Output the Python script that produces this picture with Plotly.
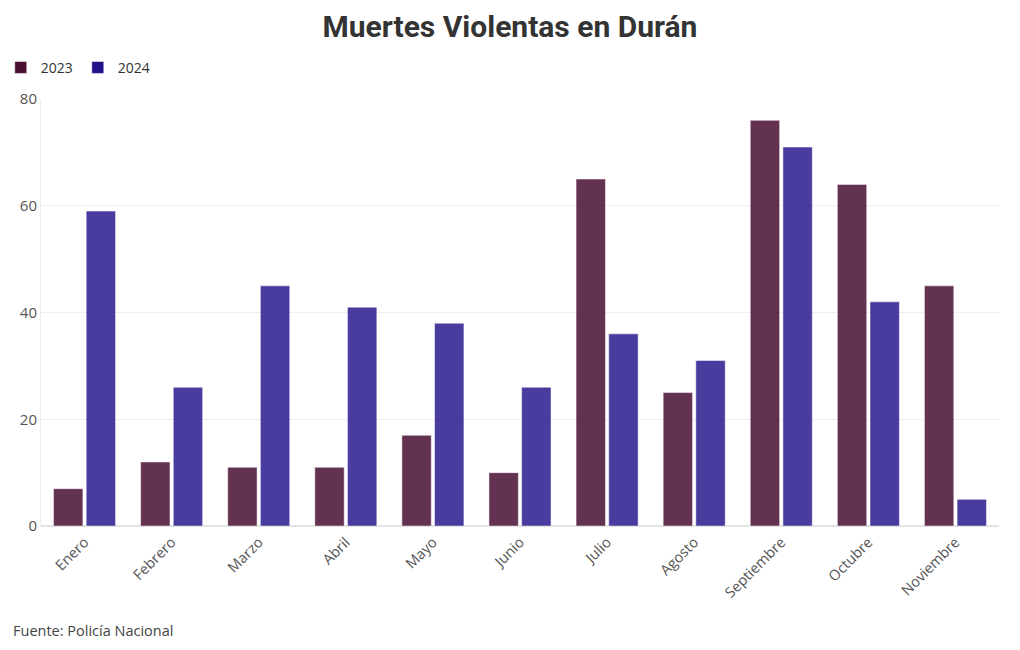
import plotly.graph_objects as go

MONTHS = ["Enero", "Febrero", "Marzo", "Abril", "Mayo", "Junio", "Julio",
          "Agosto", "Septiembre", "Octubre", "Noviembre"]
DEATHS_2023 = [7, 12, 11, 11, 17, 10, 65, 25, 76, 64, 45]
DEATHS_2024 = [59, 26, 45, 41, 38, 26, 36, 31, 71, 42, 5]

FONT = "Open Sans"

fig = go.Figure()
fig.add_trace(go.Bar(x=MONTHS, y=DEATHS_2023, name="2023",
                     marker={"color": "#4a0f33", "opacity": 0.85}))
fig.add_trace(go.Bar(x=MONTHS, y=DEATHS_2024, name="2024",
                     marker={"color": "#22128a", "opacity": 0.82}))

# the page body adds an 8px offset, so the figure is drawn 8px smaller
fig.update_layout(
    width=1012,
    height=642,
    template="plotly_white",
    font={"family": FONT, "size": 14, "color": "#444"},
    title={"text": "<b>Muertes Violentas en Durán</b>", "x": 0.496, "xanchor": "center",
           "y": 0.971, "yanchor": "middle",
           "font": {"family": "Roboto", "size": 30, "color": "#333"}},
    margin={"l": 33, "r": 21, "t": 91, "b": 124, "autoexpand": False},
    barmode="group",
    bargap=0.25,
    bargroupgap=0.1,
    showlegend=True,
    legend={"orientation": "h", "x": -0.042, "xanchor": "left", "y": 1.073, "yanchor": "middle",
            "font": {"size": 14, "color": "#333"}, "itemwidth": 30, "traceorder": "normal",
            "tracegroupgap": 0},
    xaxis={"tickangle": -45, "showgrid": False, "automargin": False,
           "ticklabelstandoff": 4,
           "tickfont": {"size": 14.5, "color": "#555"}},
    yaxis={"range": [0, 80], "tickvals": [0, 20, 40, 60, 80], "gridcolor": "#eeeeee",
           "zeroline": True, "zerolinecolor": "#e4e4e4", "automargin": False,
           "showline": True, "linecolor": "#eeeeee",
           "tickfont": {"size": 15, "color": "#555"}},
    annotations=[{"text": "Fuente: Policía Nacional", "xref": "paper", "yref": "paper",
                  "x": -0.031, "y": -0.2436, "xanchor": "left", "yanchor": "middle",
                  "showarrow": False, "font": {"size": 14.5, "color": "#444"}}],
)

fig.write_html("out.html")
